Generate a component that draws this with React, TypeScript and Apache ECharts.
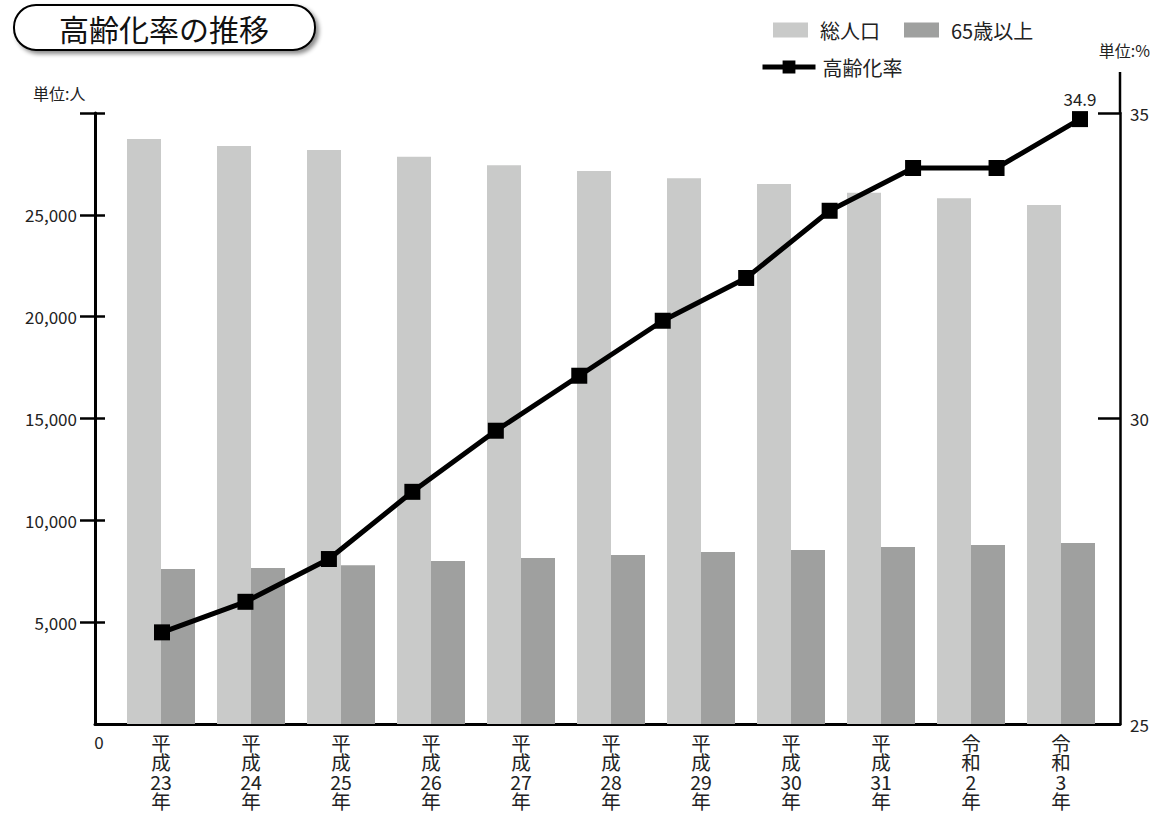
import React, { useEffect, useRef } from "react";
import * as echarts from "echarts";

const years = ["平成23年", "平成24年", "平成25年", "平成26年", "平成27年", "平成28年", "平成29年", "平成30年", "平成31年", "令和2年", "令和3年"];
const totalPop = [28720, 28380, 28180, 27850, 27440, 27150, 26800, 26510, 26080, 25820, 25480];
const elderly = [7610, 7660, 7800, 8000, 8150, 8300, 8440, 8540, 8690, 8790, 8890];
const rateYears = ["平成22年", "平成23年", "平成24年", "平成25年", "平成26年", "平成27年", "平成28年", "平成29年", "平成30年", "平成31年", "令和2年", "令和3年"];
const agingRate = [26.5, 27.0, 27.7, 28.8, 29.8, 30.7, 31.6, 32.3, 33.4, 34.1, 34.1, 34.9];
const leftTickValues = [5000, 10000, 15000, 20000, 25000, 30000];
const leftLabelValues = [5000, 10000, 15000, 20000, 25000];
const rightTickValues = [30, 35];
const rightLabelValues = [25, 30, 35];

const FONT = "'Noto Sans CJK JP', 'Noto Sans', sans-serif";
const TXT = "#222";

export default function App() {
  const ref = useRef<HTMLDivElement>(null);
  useEffect(() => {
    if (!ref.current) return;
    const chart = echarts.init(ref.current, null, { renderer: "svg" });
    const lastIdx = agingRate.length - 1;
    const option: any = {
      animation: false,
      backgroundColor: "#fff",
      textStyle: { fontFamily: FONT },
      grid: [
        { left: 95, top: 113, width: 1025, height: 611 },
        { left: 116, top: 113, width: 990, height: 611 },
        { left: 162, top: 113, width: 918, height: 611 },
      ],
      legend: [
        {
          data: ["総人口", "65歳以上"],
          left: 768,
          top: 15,
          itemWidth: 35,
          itemHeight: 15,
          itemGap: 24,
          icon: "rect",
          textStyle: { fontSize: 20, color: TXT, fontFamily: FONT, padding: [0, 0, 0, 7] },
        },
        {
          data: ["高齢化率"],
          left: 755,
          top: 52,
          itemWidth: 53,
          itemHeight: 16,
          lineStyle: { width: 5, color: "#000" },
          itemStyle: { color: "#000" },
          textStyle: { fontSize: 20, color: TXT, fontFamily: FONT, padding: [0, 0, 0, 2] },
        },
      ],
      xAxis: [
        {
          gridIndex: 0,
          type: "category",
          data: years,
          axisLine: { show: true, lineStyle: { color: "#000", width: 3 } },
          axisTick: { show: false },
          axisLabel: { show: false },
          splitLine: { show: false },
        },
        {
          gridIndex: 1,
          type: "category",
          data: years,
          axisLine: { show: false },
          axisTick: { show: false },
          axisLabel: {
            interval: 0,
            margin: 9,
            fontSize: 19.5,
            lineHeight: 19.3,
            color: TXT,
            fontFamily: FONT,
            formatter: (v: string) => (v.match(/\d+|./g) || []).join("\n"),
          },
        },
        {
          gridIndex: 2,
          type: "category",
          data: rateYears,
          boundaryGap: false,
          show: false,
        },
      ],
      yAxis: [
        {
          gridIndex: 0,
          type: "value",
          position: "left",
          min: 0,
          max: 30000,
          interval: 5000,
          axisLine: { show: true, lineStyle: { color: "#000", width: 3 } },
          axisTick: { show: true, customValues: leftTickValues, length: 15, inside: false, lineStyle: { color: "#000", width: 2.5 } },
          axisLabel: {
            customValues: leftLabelValues,
            margin: 18,
            fontSize: 17,
            color: TXT,
            fontFamily: FONT,
            formatter: (v: number) => v.toLocaleString("en-US"),
          },
          splitLine: { show: false },
        },
        {
          gridIndex: 0,
          type: "value",
          position: "left",
          offset: 0,
          min: 0,
          max: 30000,
          interval: 5000,
          axisLine: { show: false },
          axisTick: { show: true, customValues: leftTickValues, length: 10, inside: true, lineStyle: { color: "#000", width: 2.5 } },
          axisLabel: { show: false },
          splitLine: { show: false },
        },
        {
          gridIndex: 0,
          type: "value",
          position: "right",
          min: 25,
          max: 35,
          interval: 5,
          axisLine: { show: true, lineStyle: { color: "#000", width: 2.5 } },
          axisTick: { show: true, customValues: rightTickValues, length: 22, inside: true, lineStyle: { color: "#000", width: 2.5 } },
          axisLabel: { customValues: rightLabelValues, margin: 10, fontSize: 17, color: TXT, fontFamily: FONT },
          splitLine: { show: false },
        },
        { gridIndex: 1, type: "value", min: 0, max: 30000, show: false, splitLine: { show: false } },
        { gridIndex: 2, type: "value", min: 25, max: 35, show: false, splitLine: { show: false } },
      ],
      series: [
        {
          name: "総人口",
          type: "bar",
          xAxisIndex: 1,
          yAxisIndex: 3,
          data: totalPop,
          barWidth: 34,
          barGap: "0%",
          itemStyle: { color: "#c9cac9" },
        },
        {
          name: "65歳以上",
          type: "bar",
          xAxisIndex: 1,
          yAxisIndex: 3,
          data: elderly,
          barWidth: 34,
          barGap: "0%",
          itemStyle: { color: "#9fa09f" },
        },
        {
          name: "高齢化率",
          type: "line",
          xAxisIndex: 2,
          yAxisIndex: 4,
          symbol: "rect",
          symbolSize: 16,
          z: 5,
          lineStyle: { color: "#000", width: 5 },
          itemStyle: { color: "#000" },
          data: agingRate.map((v, i) =>
            i === lastIdx
              ? { value: v, label: { show: true, position: "top", distance: 4, fontSize: 17, color: TXT, fontFamily: FONT, formatter: (p: any) => p.value.toFixed(1) } }
              : v
          ),
        },
      ],
      graphic: [
        {
          type: "rect",
          shape: { x: 14, y: 5, width: 301, height: 45, r: 22 },
          style: { fill: "#fff", stroke: "#000", lineWidth: 2, shadowBlur: 4, shadowOffsetX: 3, shadowOffsetY: 3, shadowColor: "rgba(0,0,0,0.45)" },
          z: 10,
        },
        {
          type: "text",
          x: 164,
          y: 28,
          style: { text: "高齢化率の推移", fontSize: 30, fill: "#111", fontFamily: FONT, align: "center", verticalAlign: "middle" },
          z: 11,
        },
        {
          type: "text",
          x: 33,
          y: 93,
          style: { text: "単位:人", fontSize: 16, fill: TXT, fontFamily: FONT, align: "left", verticalAlign: "middle" },
        },
        {
          type: "text",
          x: 1150,
          y: 50,
          style: { text: "単位:%", fontSize: 16, fill: TXT, fontFamily: FONT, align: "right", verticalAlign: "middle" },
        },
        {
          type: "text",
          x: 99,
          y: 741,
          style: { text: "0", fontSize: 17, fill: TXT, fontFamily: FONT, align: "center", verticalAlign: "middle" },
        },
        {
          type: "line",
          shape: { x1: 1120, y1: 72, x2: 1120, y2: 114 },
          style: { stroke: "#000", lineWidth: 2.5 },
        },
      ],
    };
    chart.setOption(option);
    return () => chart.dispose();
  }, []);
  return <div ref={ref} style={{ position: "absolute", left: 0, top: 0, width: 1154, height: 816 }} />;
}
